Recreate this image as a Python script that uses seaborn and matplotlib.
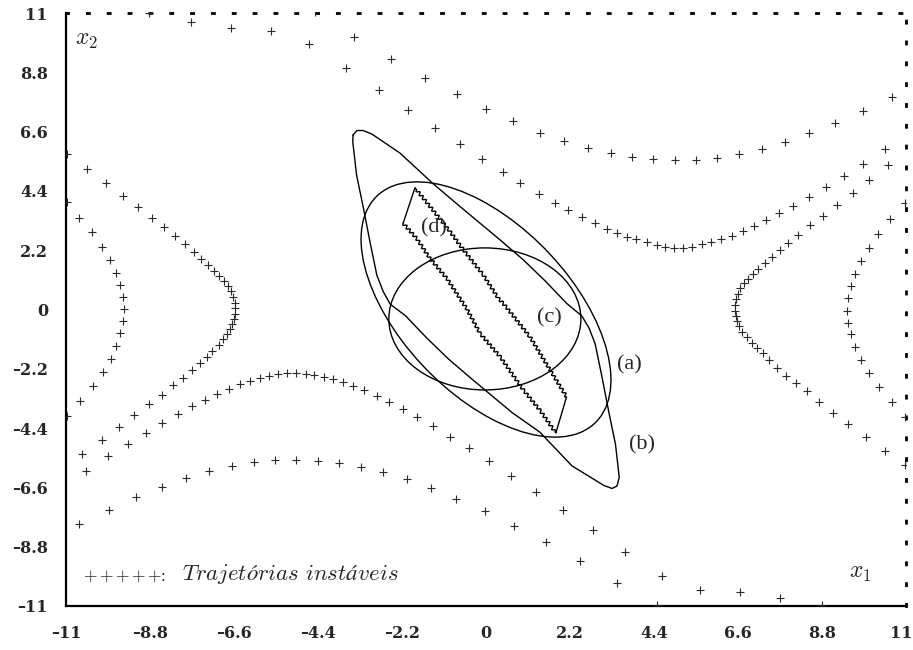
import numpy as np
import pandas as pd
import matplotlib
matplotlib.use("Agg")
import matplotlib.pyplot as plt
import matplotlib.transforms as mtransforms
from matplotlib.patches import Ellipse
from matplotlib.ticker import FixedLocator, MultipleLocator
import seaborn as sns

# ---------------- data ----------------
tick_values = [-11, -8.8, -6.6, -4.4, -2.2, 0, 2.2, 4.4, 6.6, 8.8, 11]
tick_labels = ["\u201311", "\u20138.8", "\u20136.6", "\u20134.4", "\u20132.2", "0",
               "2.2", "4.4", "6.6", "8.8", "11"]

# unstable trajectories (+ markers)
t1_x = [-4.48, -3.46, -2.49, -1.60, -0.76, 0.00, 0.71, 1.41, 2.04, 2.67, 3.27, 3.82,
        4.37, 4.95, 5.50, 6.05, 6.63, 7.23, 7.83, 8.46, 9.14, 9.87, 10.63]
t1_y = [11.02, 10.12, 9.30, 8.59, 8.00, 7.44, 7.00, 6.55, 6.25, 5.99, 5.81, 5.66,
        5.59, 5.55, 5.55, 5.62, 5.77, 5.96, 6.22, 6.55, 6.92, 7.37, 7.89]

t1b_x = [-10.65, -9.88, -9.17, -8.49, -7.86, -7.25, -6.65, -6.08, -5.52, -4.97, -4.41,
         -3.84, -3.27, -2.70, -2.07, -1.43, -0.78, -0.03, 0.73, 1.56, 2.46, 3.44, 4.48]
t1b_y = [-7.94, -7.42, -6.96, -6.59, -6.25, -6.01, -5.81, -5.67, -5.59, -5.59, -5.63,
         -5.71, -5.85, -6.04, -6.28, -6.63, -7.03, -7.48, -8.04, -8.64, -9.34, -10.15, -10.98]

t2_x = [-8.82, -7.73, -6.67, -5.63, -4.63, -3.67, -2.81, -2.04, -1.33, -0.69, -0.10,
        0.44, 0.89, 1.39, 1.81, 2.15, 2.51, 2.85, 3.17, 3.43, 3.69, 3.93, 4.22, 4.47,
        4.69, 4.93, 5.17, 5.40, 5.65, 5.89, 6.16, 6.44, 6.72, 7.03, 7.33, 7.68, 8.05,
        8.47, 8.91, 9.38, 9.87, 10.46]
t2_y = [10.99, 10.66, 10.44, 10.33, 9.86, 8.95, 8.15, 7.41, 6.74, 6.13, 5.58, 5.09,
        4.70, 4.29, 3.95, 3.69, 3.43, 3.21, 2.99, 2.84, 2.69, 2.60, 2.52, 2.39, 2.33,
        2.29, 2.29, 2.33, 2.42, 2.52, 2.62, 2.73, 2.92, 3.10, 3.32, 3.59, 3.84, 4.16,
        4.54, 4.96, 5.40, 5.96]

t2b_x = [-10.48, -9.89, -9.38, -8.91, -8.48, -8.07, -7.69, -7.35, -7.05, -6.72, -6.44,
         -6.18, -5.92, -5.68, -5.44, -5.20, -4.97, -4.72, -4.50, -4.24, -4.00, -3.74,
         -3.48, -3.19, -2.86, -2.53, -2.18, -1.81, -1.40, -0.94, -0.45, 0.09, 0.66,
         1.32, 2.02, 2.80, 3.65, 4.60, 5.61, 6.65, 7.70, 8.80]
t2b_y = [-5.98, -5.44, -5.00, -4.60, -4.20, -3.87, -3.58, -3.36, -3.15, -2.96, -2.78,
         -2.65, -2.55, -2.47, -2.39, -2.37, -2.37, -2.39, -2.44, -2.52, -2.59, -2.70,
         -2.84, -2.99, -3.21, -3.43, -3.69, -4.00, -4.34, -4.74, -5.15, -5.62, -6.18,
         -6.77, -7.44, -8.18, -9.01, -9.89, -10.39, -10.49, -10.71, -10.97]

h1_x = [10.54, 10.04, 9.60, 9.19, 8.82, 8.49, 8.18, 7.92, 7.70, 7.48, 7.31, 7.13, 7.00,
        6.87, 6.76, 6.65, 6.59, 6.55, 6.53, 6.53, 6.54, 6.57, 6.63, 6.71, 6.84, 6.96,
        7.09, 7.25, 7.41, 7.61, 7.85, 8.12, 8.42, 8.73, 9.08, 9.49, 9.94, 10.45, 10.97]
h1_y = [5.36, 4.81, 4.31, 3.88, 3.47, 3.13, 2.77, 2.46, 2.21, 1.96, 1.71, 1.49, 1.32,
        1.12, 0.97, 0.79, 0.58, 0.38, 0.17, -0.04, -0.23, -0.42, -0.61, -0.82, -1.03,
        -1.23, -1.44, -1.63, -1.87, -2.18, -2.47, -2.74, -3.04, -3.42, -3.85, -4.25,
        -4.72, -5.25, -5.77]

h1b_x = [-10.98, -10.46, -9.96, -9.51, -9.12, -8.75, -8.43, -8.14, -7.88, -7.66, -7.46,
         -7.27, -7.12, -6.99, -6.86, -6.77, -6.68, -6.62, -6.57, -6.57, -6.57, -6.59,
         -6.64, -6.71, -6.78, -6.88, -7.00, -7.18, -7.32, -7.49, -7.71, -7.94, -8.21,
         -8.49, -8.83, -9.21, -9.60, -10.07, -10.59]
h1b_y = [5.77, 5.22, 4.70, 4.20, 3.79, 3.39, 3.06, 2.73, 2.43, 2.13, 1.87, 1.65, 1.42,
         1.24, 1.06, 0.87, 0.68, 0.48, 0.25, 0.04, -0.17, -0.36, -0.54, -0.73, -0.92,
         -1.11, -1.32, -1.54, -1.75, -1.97, -2.25, -2.53, -2.81, -3.18, -3.52, -3.92,
         -4.35, -4.84, -5.36]

h2_x = [10.97, 10.58, 10.27, 10.02, 9.81, 9.66, 9.55, 9.49, 9.46, 9.49, 9.55, 9.66,
        9.82, 10.04, 10.30, 10.63, 10.97]
h2_y = [3.94, 3.35, 2.79, 2.27, 1.81, 1.31, 0.87, 0.44, -0.06, -0.49, -0.92, -1.38,
        -1.87, -2.35, -2.87, -3.42, -4.00]

h2b_x = [-10.98, -10.65, -10.31, -10.05, -9.85, -9.69, -9.58, -9.51, -9.48, -9.51,
         -9.58, -9.69, -9.83, -10.04, -10.29, -10.63, -10.98]
h2b_y = [4.00, 3.39, 2.89, 2.32, 1.84, 1.34, 0.91, 0.48, 0.01, -0.43, -0.88, -1.35,
         -1.84, -2.31, -2.84, -3.41, -3.95]

# region (b): closed curve
b_x = [-3.48, -3.38, -3.22, -2.99, -2.25, -1.38, -0.68, 0.37, 0.98, 1.55, 2.11, 2.51,
       2.70, 2.86, 3.04, 3.21, 3.39, 3.49, 3.43, 3.30, 3.09, 2.25, 1.41, 0.68, -0.37,
       -0.98, -1.55, -2.11, -2.51, -2.69, -2.86, -3.04, -3.21, -3.39, -3.49, -3.48]
b_y = [6.48, 6.64, 6.64, 6.51, 5.80, 4.66, 3.82, 2.58, 1.84, 1.06, 0.23, -0.24,
       -0.69, -1.28, -2.52, -3.76, -4.99, -6.23, -6.55, -6.64, -6.53, -5.80, -4.55,
       -3.82, -2.58, -1.84, -1.06, -0.23, 0.20, 0.66, 1.28, 2.52, 3.76, 4.99, 6.23, 6.48]

# region (d): jagged band
d_right_x = [-1.82, -1.29, -0.94, -0.59, -0.07, 0.32, 0.45, 1.15, 1.68, 2.11]
d_right_y = [4.44, 3.51, 2.89, 2.21, 1.28, 0.42, 0.23, -1.01, -2.25, -3.24]
d_left_x = [1.81, 1.41, 0.98, 0.37, -0.16, -0.51, -1.03, -1.47, -1.82, -2.17]
d_left_y = [-4.54, -3.73, -2.99, -1.75, -0.88, 0.04, 1.16, 1.90, 2.64, 3.20]
d_top_x = [-2.17, -1.86, -1.82]
d_top_y = [3.20, 4.52, 4.44]
d_bottom_x = [2.11, 1.83, 1.81]
d_bottom_y = [-3.24, -4.58, -4.54]

# regions (a) and (c): ellipses (centre, full width, full height, angle in data units)
ell_a = dict(center=(0.0, 0.0), width=10.38, height=4.98, angle=-62.2)
ell_c = dict(center=(-0.03, -0.35), width=5.03, height=5.27, angle=0.0)

region_labels = ["(a)", "(b)", "(c)", "(d)"]
label_x = [3.76, 4.09, 1.65, -1.36]
label_y = [-2.06, -5.03, -0.32, 3.04]

# ---------------- figure ----------------
sns.set_style("white")
plt.rcParams["lines.scale_dashes"] = False
plt.rcParams["mathtext.fontset"] = "cm"
plt.rcParams["font.family"] = ["Liberation Serif", "DejaVu Serif"]

fig = plt.figure(figsize=(9.13, 6.5), dpi=100)
ax = fig.add_axes([66 / 913, 1 - 606 / 650, 840 / 913, 593 / 650])

traj = {
    "t1": (t1_x, t1_y), "t1b": (t1b_x, t1b_y),
    "t2": (t2_x, t2_y), "t2b": (t2b_x, t2b_y),
    "h1": (h1_x, h1_y), "h1b": (h1b_x, h1b_y),
    "h2": (h2_x, h2_y), "h2b": (h2b_x, h2b_y),
}
frames = [pd.DataFrame({"x1": xs, "x2": ys, "traj": name}) for name, (xs, ys) in traj.items()]
df = pd.concat(frames, ignore_index=True)
sns.scatterplot(data=df, x="x1", y="x2", marker="+", color="#2a2a2a", s=34,
                linewidth=0.8, ax=ax, legend=False, zorder=3)

line_kw = dict(color="black", linewidth=1.0, sort=False, estimator=None, ax=ax, legend=False)
sns.lineplot(x=b_x, y=b_y, **line_kw)

for xs, ys in [(d_right_x, d_right_y), (d_left_x, d_left_y)]:
    sns.lineplot(x=xs, y=ys, **line_kw)
    ax.lines[-1].set_sketch_params(scale=1.6, length=5.0, randomness=1.0)
for xs, ys in [(d_top_x, d_top_y), (d_bottom_x, d_bottom_y)]:
    sns.lineplot(x=xs, y=ys, **line_kw)

for e in (ell_a, ell_c):
    ax.add_patch(Ellipse(e["center"], e["width"], e["height"], angle=e["angle"],
                         fill=False, edgecolor="black", linewidth=1.0))

for t, x, y in zip(region_labels, label_x, label_y):
    ax.text(x, y, t, fontsize=16, ha="center", va="center", family="Liberation Serif")

ax.text(-10.76, 9.82, r"$x_2$", fontsize=17, ha="left", va="baseline")
ax.text(9.51, -9.97, r"$x_1$", fontsize=17, ha="left", va="baseline")
ax.text(-10.55, -10.05, r"${+}\,{+}\,{+}\,{+}\,{+}$:", fontsize=12.5,
        ha="left", va="baseline")
ax.text(-7.97, -10.05, r"$Trajetórias\ instáveis$", fontsize=16.5,
        ha="left", va="baseline")

ax.set_xlim(-11, 11)
ax.set_ylim(-11, 11)
ax.set_xlabel("")
ax.set_ylabel("")
for axis in (ax.xaxis, ax.yaxis):
    axis.set_major_locator(FixedLocator(tick_values))
    axis.set_minor_locator(MultipleLocator(1.1))
ax.set_xticklabels(tick_labels)
ax.set_yticklabels(tick_labels)
ax.tick_params(which="major", direction="out", length=9, width=1.5, color="black",
               labelsize=11.5, pad=5)
ax.tick_params(which="minor", direction="out", length=4.5, width=1.5, color="black")
ax.tick_params(axis="y", which="major", pad=4)
for lab in ax.get_xticklabels() + ax.get_yticklabels():
    lab.set_fontweight("bold")
    lab.set_family("DejaVu Serif")

# keep the last x tick label inside the canvas, as in the reference
last_tick = ax.xaxis.get_major_ticks()[-1]
last_tick.label1.set_transform(
    last_tick.label1.get_transform()
    + mtransforms.ScaledTranslation(-0.05, 0, fig.dpi_scale_trans))

for side in ("left", "bottom"):
    ax.spines[side].set_linewidth(1.6)
    ax.spines[side].set_color("black")
for side in ("top", "right"):
    ax.spines[side].set_visible(True)
    ax.spines[side].set_color("black")
    ax.spines[side].set_linewidth(2.0)
    ax.spines[side].set_linestyle((0, (1.5, 13.5)))

fig.savefig("out.png", dpi=100, facecolor="white")
